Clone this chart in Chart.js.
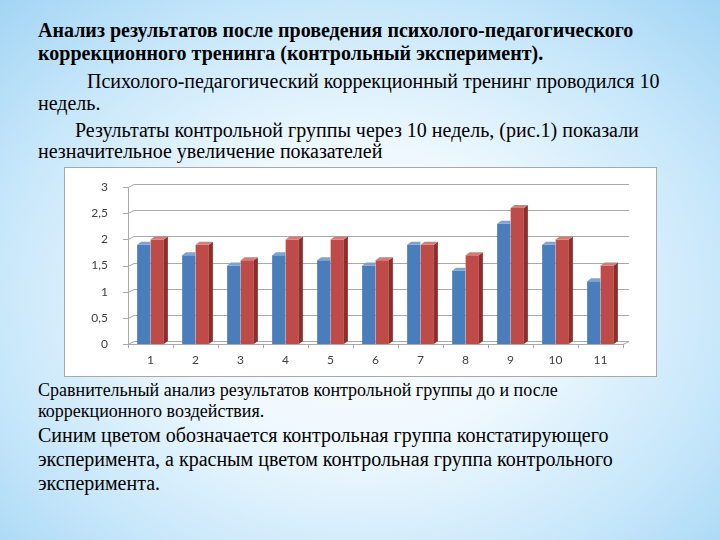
<!DOCTYPE html>
<html>
<head>
<meta charset="utf-8">
<script src="https://cdn.jsdelivr.net/npm/chart.js@4.4.0/dist/chart.umd.min.js"></script>
<style>
  body {
    margin: 0;
    width: 720px;
    height: 540px;
    overflow: hidden;
    position: relative;
    background: radial-gradient(ellipse 75% 80% at 50% 55%, #ffffff 0%, #eef8fe 35%, #c5e6fa 70%, #9dd2f4 100%);
    color: #000;
  }
  .t {
    position: absolute; white-space: nowrap; line-height: 1; font-size: 20px;
    font-family: "Liberation Serif", Tinos, "Noto Serif", "DejaVu Serif", serif;
  }
  .b { font-weight: bold; }
  .s { font-size: 18px; }
  #box {
    position: absolute; left: 64px; top: 167px; width: 593px; height: 210px;
    background: #fff; border: 1px solid #a8a8a8; box-sizing: border-box;
  }
</style>
</head>
<body>
<div class="t b" style="left:38px;top:20px;">Анализ результатов после проведения психолого-педагогического</div>
<div class="t b" style="left:38px;top:43px;">коррекционного тренинга (контрольный эксперимент).</div>
<div class="t" style="left:87px;top:71px;">Психолого-педагогический коррекционный тренинг проводился 10</div>
<div class="t" style="left:38px;top:93px;">недель.</div>
<div class="t" style="left:75px;top:120px;">Результаты контрольной группы через 10 недель, (рис.1) показали</div>
<div class="t" style="left:38px;top:141px;">незначительное увеличение показателей</div>

<div id="box"><canvas id="chart" width="591" height="208"></canvas></div>

<div class="t s" style="left:38px;top:381px;">Сравнительный анализ результатов контрольной группы до и после</div>
<div class="t s" style="left:38px;top:402px;">коррекционного воздействия.</div>
<div class="t" style="left:38px;top:425px;">Синим цветом обозначается контрольная группа констатирующего</div>
<div class="t" style="left:38px;top:449px;">эксперимента, а красным цветом контрольная группа контрольного</div>
<div class="t" style="left:38px;top:473px;">эксперимента.</div>

<script>
// chart data
const categories = ["1", "2", "3", "4", "5", "6", "7", "8", "9", "10", "11"];
const beforeValues = [1.9, 1.7, 1.5, 1.7, 1.6, 1.5, 1.9, 1.4, 2.3, 1.9, 1.2];
const afterValues = [2.0, 1.9, 1.6, 2.0, 2.0, 1.6, 1.9, 1.7, 2.6, 2.0, 1.5];
const yTickLabels = ["0", "0,5", "1", "1,5", "2", "2,5", "3"];

const frontColors = ["#4a7ebb", "#be4b48"];
const sideColors = ["#2f5a8c", "#8a2f2c"];
const topColors = ["#7aa3d6", "#d97a77"];

// depth of the fake 3d effect
const dx = 6;
const dy = 3;
const bx = 4; // bar depth

function poly(ctx, pts, fill) {
  ctx.beginPath();
  ctx.moveTo(pts[0][0], pts[0][1]);
  for (let i = 1; i < pts.length; i++) ctx.lineTo(pts[i][0], pts[i][1]);
  ctx.closePath();
  ctx.fillStyle = fill;
  ctx.fill();
}

// back wall grid, floor and y axis line
const walls = {
  id: 'walls',
  beforeDatasetsDraw(chart) {
    const ctx = chart.ctx;
    const area = chart.chartArea;
    const y = chart.scales.y;
    const y0 = y.getPixelForValue(0);
    ctx.save();
    ctx.strokeStyle = "#a9a9a9";
    ctx.lineWidth = 1;
    y.ticks.forEach(t => {
      const py = Math.round(y.getPixelForValue(t.value)) + 0.5;
      ctx.beginPath();
      ctx.moveTo(area.left - 5, py);
      ctx.lineTo(area.left, py);
      ctx.lineTo(area.left + dx, py - dy);
      ctx.lineTo(area.right + dx, py - dy);
      ctx.stroke();
    });
    // floor front edge
    const fy = Math.round(y0) + 0.5;
    ctx.beginPath();
    ctx.moveTo(area.left, fy);
    ctx.lineTo(area.right, fy);
    ctx.lineTo(area.right + dx, fy - dy);
    ctx.stroke();
    // y axis
    ctx.beginPath();
    ctx.moveTo(area.left + 0.5, fy);
    ctx.lineTo(area.left + 0.5, Math.round(y.getPixelForValue(3)) + 0.5);
    ctx.stroke();
    ctx.restore();
  }
};

// side and top faces of each bar; the blue side hides behind the red bar
const bar3d = {
  id: 'bar3d',
  afterDatasetsDraw(chart) {
    const ctx = chart.ctx;
    const last = chart.data.datasets.length - 1;
    ctx.save();
    chart.data.datasets.forEach((ds, i) => {
      chart.getDatasetMeta(i).data.forEach(bar => {
        const l = bar.x - bar.width / 2;
        const r = bar.x + bar.width / 2;
        const t = bar.y;
        const b = bar.base;
        if (i === last) {
          poly(ctx, [[r, t], [r + bx, t - dy], [r + bx, b - dy], [r, b]], sideColors[i]);
          poly(ctx, [[l, t], [l + bx, t - dy], [r + bx, t - dy], [r, t]], topColors[i]);
        } else {
          poly(ctx, [[l, t], [l + bx, t - dy], [r, t - dy], [r, t]], topColors[i]);
        }
      });
    });
    ctx.restore();
  }
};

new Chart(document.getElementById('chart'), {
  type: 'bar',
  data: {
    labels: categories,
    datasets: [
      { data: beforeValues, backgroundColor: frontColors[0] },
      { data: afterValues, backgroundColor: frontColors[1] }
    ]
  },
  options: {
    responsive: false,
    animation: false,
    layout: { padding: { left: 0, right: 33, top: 17, bottom: 0 } },
    datasets: {
      bar: { categoryPercentage: 0.6, barPercentage: 0.98 }
    },
    plugins: {
      legend: { display: false },
      tooltip: { enabled: false }
    },
    scales: {
      x: {
        afterFit(scale) { scale.height = 32; },
        grid: { drawOnChartArea: false, offset: true, tickLength: 4, color: "#a9a9a9" },
        border: { display: false },
        ticks: { color: "#404040", font: { family: "Lato", size: 12 }, padding: 5 }
      },
      y: {
        min: 0,
        max: 3,
        afterFit(scale) { scale.width = 63; },
        grid: { display: false },
        border: { display: false },
        ticks: {
          stepSize: 0.5,
          color: "#404040",
          font: { family: "Lato", size: 12 },
          padding: 12,
          callback: (v, idx) => yTickLabels[idx]
        }
      }
    }
  },
  plugins: [walls, bar3d]
});
</script>
</body>
</html>
